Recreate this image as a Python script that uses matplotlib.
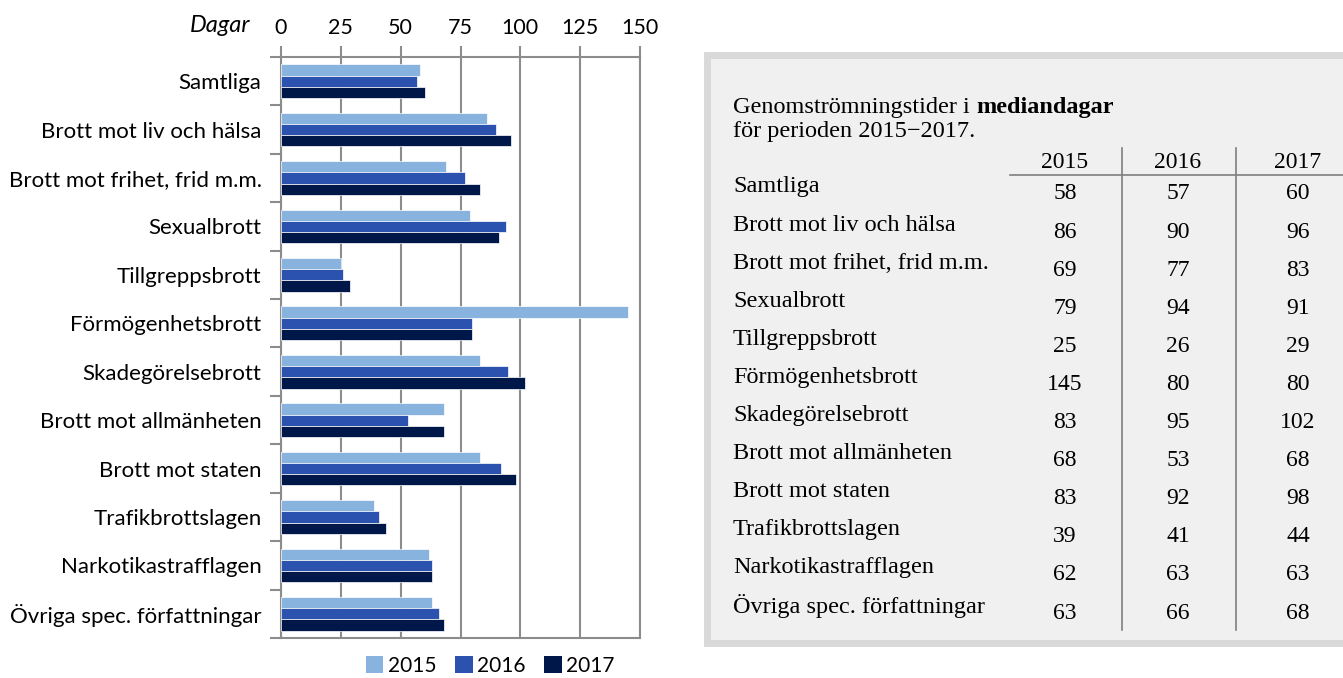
import matplotlib
matplotlib.use("Agg")
import matplotlib.pyplot as plt
from matplotlib.patches import Rectangle, Patch
from matplotlib.lines import Line2D
import numpy as np

categories = ["Samtliga", "Brott mot liv och hälsa", "Brott mot frihet, frid m.m.",
              "Sexualbrott", "Tillgreppsbrott", "Förmögenhetsbrott", "Skadegörelsebrott",
              "Brott mot allmänheten", "Brott mot staten", "Trafikbrottslagen",
              "Narkotikastrafflagen", "Övriga spec. författningar"]
years = ["2015", "2016", "2017"]
v2015 = [58, 86, 69, 79, 25, 145, 83, 68, 83, 39, 62, 63]
v2016 = [57, 90, 77, 94, 26, 80, 95, 53, 92, 41, 63, 66]
v2017 = [60, 96, 83, 91, 29, 80, 102, 68, 98, 44, 63, 68]
xticks = [0, 25, 50, 75, 100, 125, 150]
axis_label = "Dagar"
title_regular = "Genomströmningstider i "
title_bold = "mediandagar"
title_line2 = "för perioden 2015\u22122017."

colors = ["#88B3DF", "#2A52AE", "#00174A"]
W, H = 1343, 678
fig = plt.figure(figsize=(W / 100, H / 100), dpi=100)
sans = ["Lato", "DejaVu Sans"]
serif = ["Liberation Serif", "DejaVu Serif"]

def fx(px):
    return px / W

def fy(py):
    return 1 - py / H

# ---- Chart ----
ax = fig.add_axes([fx(281), fy(638), fx(640) - fx(281), (638 - 57) / H])
n = len(categories)
y = np.arange(n)
bh = 0.232
series = [v2015, v2016, v2017]
for i, (vals, c, yr) in enumerate(zip(series, colors, years)):
    ax.barh(y + (i - 1) * bh, vals, height=bh, color=c, edgecolor="white",
            linewidth=0.5, label=yr, zorder=3)
ax.set_xlim(0, 150)
ax.set_ylim(n - 0.5, -0.5)
ax.xaxis.tick_top()
ax.set_xticks(xticks)
ax.set_xticklabels([str(t) for t in xticks], fontsize=15.5, family=sans)
ax.tick_params(axis="x", which="major", direction="out", length=8, color="#8c8c8c",
               width=1.5, pad=6)
ax.set_yticks(y)
ax.set_yticklabels(categories, fontsize=16, family=sans)
ax.tick_params(axis="y", which="major", length=0, pad=14)
ax.set_yticks(np.arange(-0.5, n, 1), minor=True)
ax.tick_params(axis="y", which="minor", direction="out", length=8, color="#8c8c8c",
               width=1.5)
ax.grid(axis="x", color="#8c8c8c", linewidth=1.5, zorder=0)
for s in ax.spines.values():
    s.set_color("#8c8c8c")
    s.set_linewidth(1.5)
fig.text(fx(250), fy(25), axis_label, fontsize=17, style="italic", family=sans,
         ha="right", va="center")

handles = [Patch(facecolor=c, edgecolor="none") for c in colors]
fig.legend(handles, years, loc="center", bbox_to_anchor=(fx(490), fy(666)),
           ncol=3, frameon=False, handlelength=0.85, handleheight=0.85,
           handletextpad=0.2, columnspacing=0.9, prop={"family": sans, "size": 15})

# ---- Table box ----
box = Rectangle((fx(707), fy(643)), fx(1343 + 10) - fx(707), (643 - 55) / H,
                transform=fig.transFigure, facecolor="#F0F0F0", edgecolor="#D9D9D9",
                linewidth=5, zorder=0)
fig.patches.append(box)

tsize = 17.5
t1 = fig.text(fx(733), fy(108), title_regular, fontsize=tsize, family=serif,
              ha="left", va="center")
fig.canvas.draw()
bb = t1.get_window_extent()
fig.text(bb.x1 / W, fy(108), title_bold, fontsize=tsize, family=serif,
         weight="bold", ha="left", va="center")
fig.text(fx(733), fy(131), title_line2, fontsize=tsize, family=serif,
         ha="left", va="center")

col_x = [1065, 1178, 1298]
for cx, yr in zip(col_x, years):
    fig.text(fx(cx), fy(162), yr, fontsize=17, family=serif, ha="center", va="center")
fig.add_artist(Line2D([fx(1010), fx(1343)], [fy(175), fy(175)],
                      transform=fig.transFigure, color="#7f7f7f", linewidth=1.2))
for vx in [1122, 1236]:
    fig.add_artist(Line2D([fx(vx), fx(vx)], [fy(148), fy(630)],
                          transform=fig.transFigure, color="#7f7f7f", linewidth=1.2))

row0, step = 187, 38.1
for r, cat in enumerate(categories):
    yy = row0 + r * step
    fig.text(fx(733), fy(yy), cat, fontsize=17.5, family=serif, ha="left", va="center")
    for cx, vals in zip(col_x, series):
        fig.text(fx(cx), fy(yy + 7), str(vals[r]), fontsize=17, family=serif,
                 ha="center", va="center")

fig.savefig("out.png", dpi=100)
